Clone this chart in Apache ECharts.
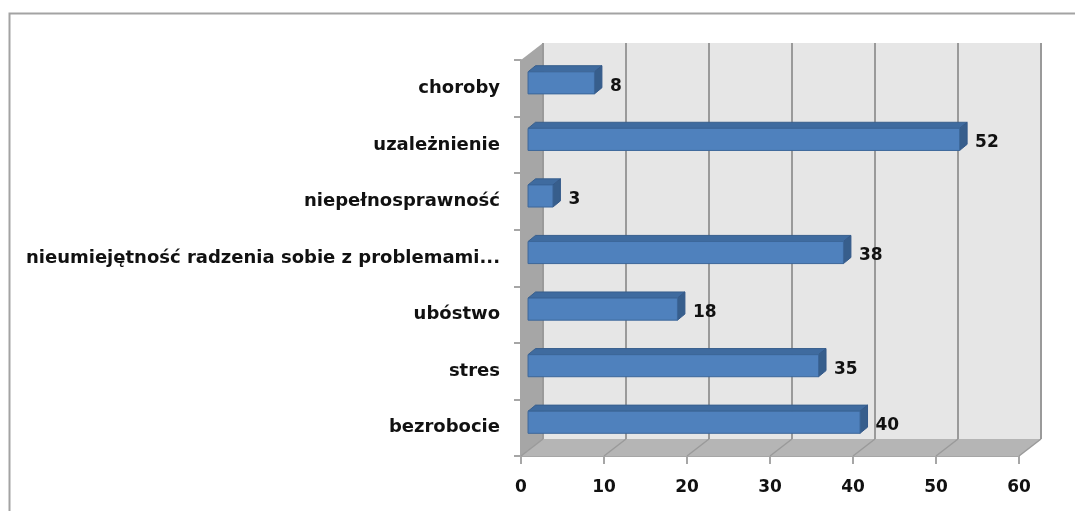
<!DOCTYPE html>
<html><head><meta charset="utf-8">
<script src="https://cdn.jsdelivr.net/npm/echarts@6/dist/echarts.min.js"></script>
<style>html,body{margin:0;padding:0;background:#fff}#c{width:1075px;height:511px}</style>
</head><body><div id="c"></div>
<script>
const categories = ["choroby","uzależnienie","niepełnosprawność","nieumiejętność radzenia sobie z problemami...","ubóstwo","stres","bezrobocie"];
const values = [8, 52, 3, 38, 18, 35, 40];
const xTicks = [0, 10, 20, 30, 40, 50, 60];

const DX = 22, DY = -17;           // depth of the 3D box
const FONT = '"DejaVu Sans", sans-serif';

const chart = echarts.init(document.getElementById('c'), null, {renderer: 'canvas'});

function wallsRender(params, api) {
  const cs = params.coordSys;
  const L = cs.x, T = cs.y, R = cs.x + cs.width, B = cs.y + cs.height;
  const ch = [];
  ch.push({type: 'rect', shape: {x: L + DX, y: T + DY, width: R - L, height: B - T},
           style: {fill: '#e6e6e6', stroke: null}});
  ch.push({type: 'polygon', shape: {points: [[L, T], [L + DX, T + DY], [L + DX, B + DY], [L, B]]},
           style: {fill: '#a6a6a6', stroke: null}});
  ch.push({type: 'polygon', shape: {points: [[L, B], [L + DX, B + DY], [R + DX, B + DY], [R, B]]},
           style: {fill: '#b5b5b5', stroke: null}});
  xTicks.forEach(function (t) {
    const x = api.coord([t, 0])[0];
    ch.push({type: 'line', shape: {x1: x + DX, y1: T + DY, x2: x + DX, y2: B + DY},
             style: {stroke: '#9a9a9a', lineWidth: 2}});
    ch.push({type: 'line', shape: {x1: x, y1: B, x2: x + DX, y2: B + DY},
             style: {stroke: '#9a9a9a', lineWidth: 1.5}});
  });
  return {type: 'group', children: ch};
}

function barRender(params, api) {
  const v = api.value(0), i = api.value(1);
  const p0 = api.coord([0, i]);
  const p1 = api.coord([v, i]);
  const band = api.size([0, 1])[1];
  const h = band * 0.39;
  const fx = DX * 0.32, fy = DY * 0.32;
  const dx = DX * 0.34, dy = DY * 0.36;
  const x0 = p0[0] + fx, x1 = p1[0] + fx;
  const yt = p0[1] + fy - h / 2, yb = p0[1] + fy + h / 2;
  return {type: 'group', children: [
    {type: 'polygon', shape: {points: [[x0, yt], [x1, yt], [x1 + dx, yt + dy], [x0 + dx, yt + dy]]},
     style: {fill: '#3f6b9f', stroke: '#385f8d', lineWidth: 1}},
    {type: 'polygon', shape: {points: [[x1, yt], [x1 + dx, yt + dy], [x1 + dx, yb + dy], [x1, yb]]},
     style: {fill: '#375e8c', stroke: '#34598a', lineWidth: 1}},
    {type: 'rect', shape: {x: x0, y: yt, width: x1 - x0, height: h},
     style: {fill: '#4f81bd', stroke: '#3c679a', lineWidth: 1}},
    {type: 'text', x: x1 + dx + 8, y: p1[1] - 2,
     style: {text: String(v), fill: '#111111', font: 'bold 17px ' + FONT,
             textAlign: 'left', textVerticalAlign: 'middle'}}
  ]};
}

chart.setOption({
  animation: false,
  backgroundColor: '#ffffff',
  graphic: [{type: 'rect', left: 7, top: 11, shape: {width: 1200, height: 600},
             style: {fill: null, stroke: '#a3a3a3', lineWidth: 2}, z: 0}],
  grid: {left: 521, top: 60, width: 498, height: 396, containLabel: false, outerBoundsMode: 'none'},
  xAxis: {
    type: 'value', min: 0, max: 60, interval: 10,
    axisLine: {show: true, lineStyle: {color: '#a6a6a6', width: 2}},
    axisTick: {show: true, length: 8, lineStyle: {color: '#a6a6a6', width: 2}},
    splitLine: {show: false},
    axisLabel: {color: '#111111', fontFamily: FONT, fontWeight: 'bold', fontSize: 17, margin: 23}
  },
  yAxis: {
    type: 'category', data: categories, inverse: true,
    axisLine: {show: true, lineStyle: {color: '#a6a6a6', width: 2}},
    axisTick: {show: true, length: 7, lineStyle: {color: '#a6a6a6', width: 2}},
    axisLabel: {color: '#111111', fontFamily: FONT, fontWeight: 'bold', fontSize: 18, margin: 21}
  },
  series: [
    {type: 'custom', renderItem: wallsRender, data: [[0, 0]], z: 1, silent: true,
     encode: {x: 0, y: 1}, clip: false},
    {type: 'custom', renderItem: barRender, data: values.map(function (v, i) { return [v, i]; }),
     z: 3, encode: {x: 0, y: 1}, clip: false}
  ]
});
</script></body></html>
